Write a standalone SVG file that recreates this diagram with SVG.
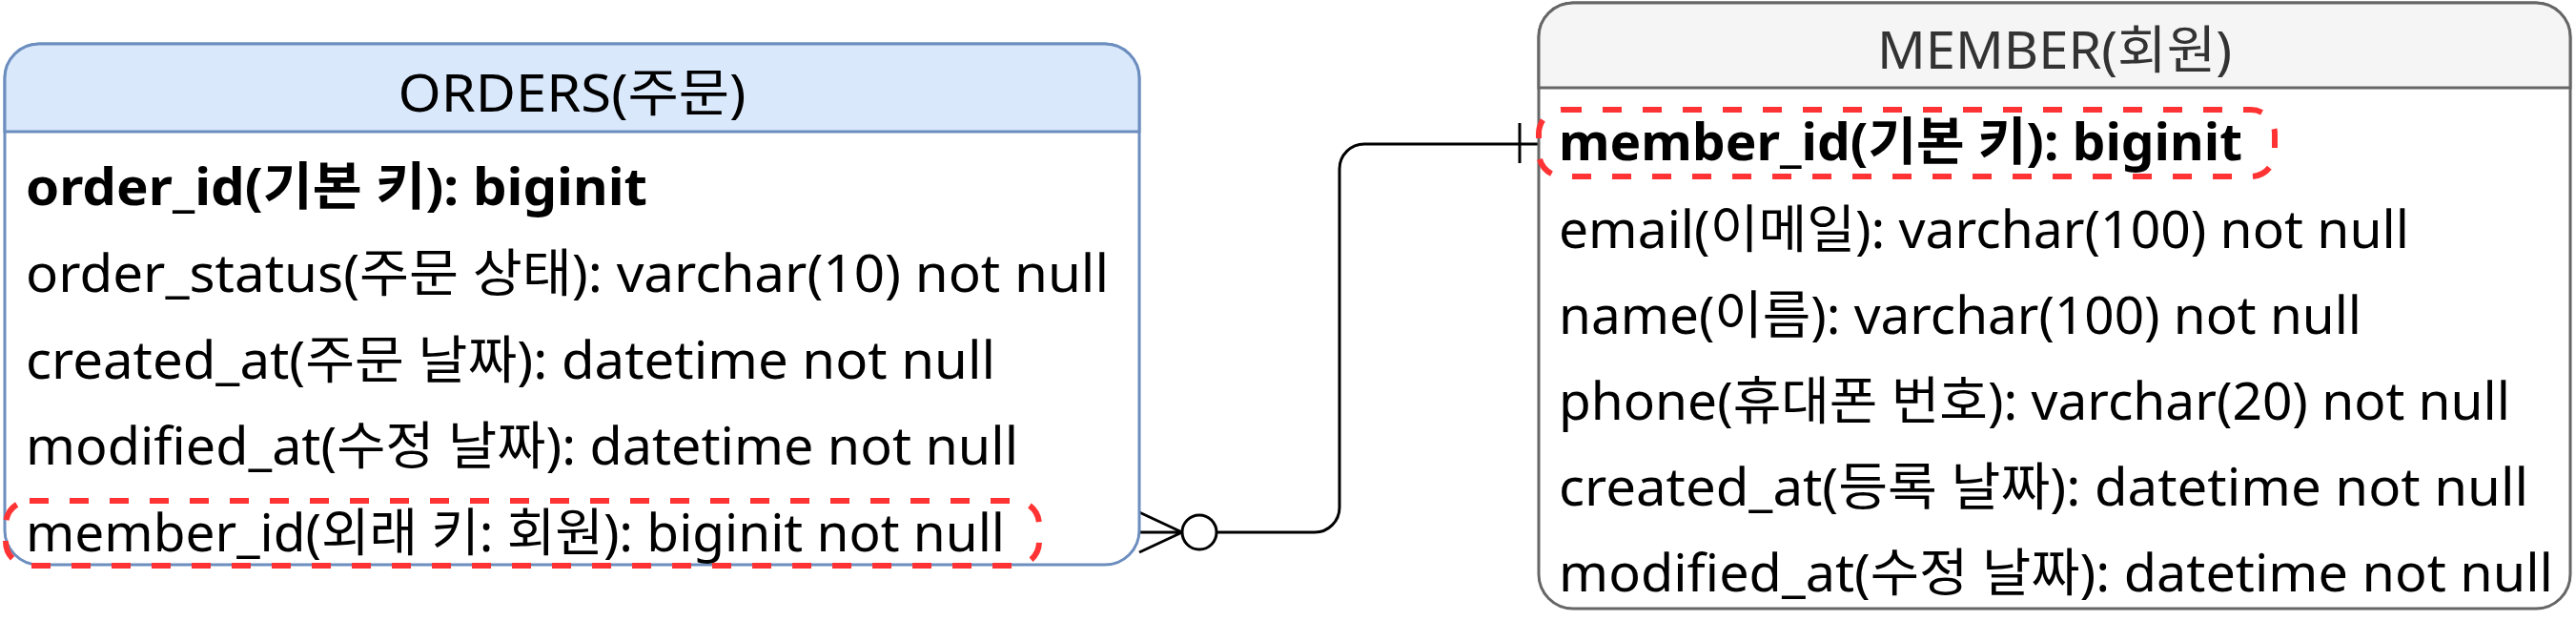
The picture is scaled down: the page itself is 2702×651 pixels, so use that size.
<svg xmlns="http://www.w3.org/2000/svg" width="2702" height="651" viewBox="0 0 2702 651">
  <style>
    text { font-family: "Noto Sans", "Noto Sans CJK KR", sans-serif; font-size: 54px; fill: #000000; }
    .title { text-anchor: middle; }
    .pk { font-weight: bold; }
    .frame { fill: #ffffff; stroke-width: 3; }
    .conn { fill: none; stroke: #000000; stroke-width: 3; }
    .hl { fill: none; stroke: #ff3333; stroke-width: 6; stroke-dasharray: 20 22; }
  </style>
  <rect width="2702" height="651" fill="#ffffff"/>

  <g id="connectors">
    <path class="conn" d="M1277,558 H1379 A26,26 0 0 0 1405,532 V177 A26,26 0 0 1 1431,151 H1614"/>
    <path class="conn" d="M1195,537 L1240,558 M1195,579 L1240,558 M1195,558 H1240"/>
    <circle class="conn" cx="1258" cy="558" r="18" fill="#ffffff"/>
    <path class="conn" d="M1594,129 V171"/>
  </g>

  <g id="orders">
    <rect class="frame" x="5" y="46" width="1190" height="546" rx="36" ry="36" stroke="#6c8ebf"/>
    <path d="M5,138 V82 A36,36 0 0 1 41,46 H1159 A36,36 0 0 1 1195,82 V138 Z" fill="#dae8fc" stroke="#6c8ebf" stroke-width="3"/>
    <text class="title" x="600" y="117" textLength="365" lengthAdjust="spacingAndGlyphs">ORDERS(주문)</text>
    <text class="pk" x="27" y="215" textLength="652" lengthAdjust="spacingAndGlyphs">order_id(기본 키):  biginit</text>
    <text x="27" y="306" textLength="1136" lengthAdjust="spacingAndGlyphs">order_status(주문 상태): varchar(10) not null</text>
    <text x="27" y="397" textLength="1017" lengthAdjust="spacingAndGlyphs">created_at(주문 날짜): datetime not null</text>
    <text x="27" y="487" textLength="1041" lengthAdjust="spacingAndGlyphs">modified_at(수정 날짜): datetime not null</text>
    <text x="27" y="578" textLength="1027" lengthAdjust="spacingAndGlyphs">member_id(외래 키: 회원): biginit not null</text>
    <rect class="hl" x="6" y="525" width="1084" height="68" rx="25" ry="25"/>
  </g>

  <g id="member">
    <rect class="frame" x="1614" y="3" width="1082" height="635" rx="36" ry="36" stroke="#666666"/>
    <path d="M1614,92 V39 A36,36 0 0 1 1650,3 H2660 A36,36 0 0 1 2696,39 V92 Z" fill="#f5f5f5" stroke="#666666" stroke-width="3"/>
    <text class="title" x="2155" y="72" textLength="372" lengthAdjust="spacingAndGlyphs" style="fill:#333333">MEMBER(회원)</text>
    <text class="pk" x="1635" y="168" textLength="717" lengthAdjust="spacingAndGlyphs">member_id(기본 키):  biginit</text>
    <text x="1635" y="260" textLength="892" lengthAdjust="spacingAndGlyphs">email(이메일): varchar(100) not null</text>
    <text x="1635" y="350" textLength="842" lengthAdjust="spacingAndGlyphs">name(이름): varchar(100) not null</text>
    <text x="1635" y="440" textLength="998" lengthAdjust="spacingAndGlyphs">phone(휴대폰 번호): varchar(20) not null</text>
    <text x="1635" y="530" textLength="1017" lengthAdjust="spacingAndGlyphs">created_at(등록 날짜): datetime not null</text>
    <text x="1635" y="620" textLength="1043" lengthAdjust="spacingAndGlyphs">modified_at(수정 날짜): datetime not null</text>
    <rect class="hl" x="1614" y="115" width="772" height="70" rx="25" ry="25"/>
  </g>
</svg>
